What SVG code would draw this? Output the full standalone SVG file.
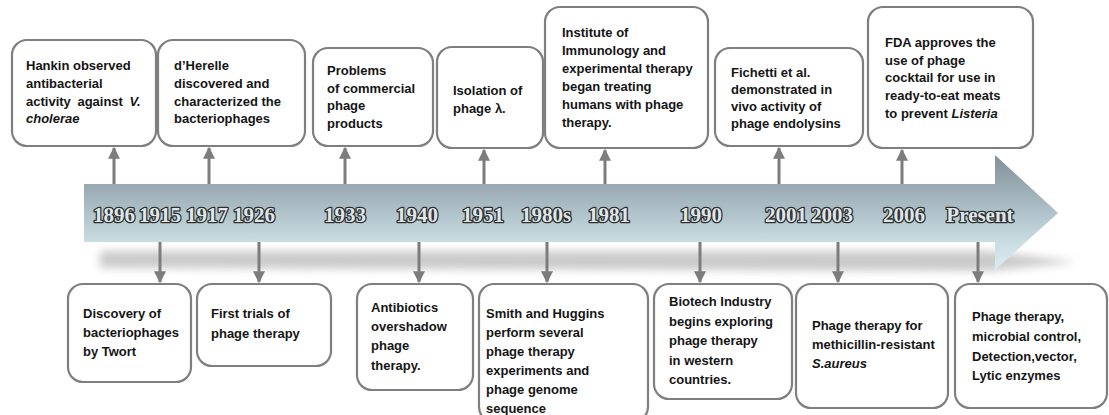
<svg xmlns="http://www.w3.org/2000/svg" width="1109" height="415" viewBox="0 0 1109 415">
<defs>
<style>
.box{fill:#fff;stroke:#7f7f7f;stroke-width:2.2}
.t{font-family:"Liberation Sans",Arial,sans-serif;font-weight:bold;font-size:13px;fill:#151515}
.i{font-style:italic}
.yr{font-family:"Liberation Serif","Times New Roman",serif;font-weight:bold;font-size:21px;fill:#dfe6ea;stroke:#2e2e2e;stroke-width:2.6;stroke-linejoin:round;paint-order:stroke;text-anchor:middle}
.con{stroke:#7d7d7d;stroke-width:3;fill:none;marker-end:url(#ah)}
</style>
<marker id="ah" markerUnits="userSpaceOnUse" markerWidth="12" markerHeight="12" viewBox="0 0 10 10" refX="9" refY="5" orient="auto">
<path d="M0,0 L10,5 L0,10 z" fill="#7d7d7d"/>
</marker>
<linearGradient id="band" gradientUnits="userSpaceOnUse" x1="0" y1="155" x2="0" y2="270">
<stop offset="0" stop-color="#7f9099"/>
<stop offset="0.25" stop-color="#97a8b0"/>
<stop offset="0.75" stop-color="#c9dce2"/>
<stop offset="1" stop-color="#dbedf2"/>
</linearGradient>
<filter id="blur" x="-5%" y="-100%" width="110%" height="300%">
<feGaussianBlur stdDeviation="4"/>
</filter>
</defs>

<g id="timeline">
<path d="M100,251 L990,251 L1078,262 L990,271 L100,268 z" fill="#8a8a8a" opacity="0.45" filter="url(#blur)"/>
<path d="M84,184 L995,184 L995,155 L1058,213 L995,270 L995,242 L84,242 z" fill="url(#band)"/>
<text class="yr" x="114" y="222">1896</text>
<text class="yr" x="160" y="222">1915</text>
<text class="yr" x="207" y="222">1917</text>
<text class="yr" x="254" y="222">1926</text>
<text class="yr" x="345" y="222">1933</text>
<text class="yr" x="417" y="222">1940</text>
<text class="yr" x="483" y="222">1951</text>
<text class="yr" x="546" y="222">1980s</text>
<text class="yr" x="609" y="222">1981</text>
<text class="yr" x="701" y="222">1990</text>
<text class="yr" x="786" y="222">2001</text>
<text class="yr" x="832" y="222">2003</text>
<text class="yr" x="904" y="222">2006</text>
<text class="yr" x="980" y="222">Present</text>
</g>

<g id="connectors">
<line class="con" x1="114" y1="184" x2="114" y2="148"/>
<line class="con" x1="209" y1="184" x2="209" y2="148"/>
<line class="con" x1="345" y1="184" x2="345" y2="148"/>
<line class="con" x1="484" y1="184" x2="484" y2="150"/>
<line class="con" x1="605" y1="184" x2="605" y2="150"/>
<line class="con" x1="779" y1="184" x2="779" y2="148"/>
<line class="con" x1="902" y1="184" x2="902" y2="150"/>
<line class="con" x1="160" y1="242" x2="160" y2="282"/>
<line class="con" x1="259" y1="242" x2="259" y2="282"/>
<line class="con" x1="419" y1="242" x2="419" y2="282"/>
<line class="con" x1="547" y1="242" x2="547" y2="282"/>
<line class="con" x1="700" y1="242" x2="700" y2="282"/>
<line class="con" x1="838" y1="242" x2="838" y2="282"/>
<line class="con" x1="978" y1="242" x2="978" y2="282"/>
</g>

<g id="n1896">
<rect class="box" x="12" y="40" width="144" height="106" rx="15"/>
<text class="t" x="26" y="70">Hankin observed</text>
<text class="t" x="26" y="88">antibacterial</text>
<text class="t" x="26" y="106" word-spacing="3">activity against <tspan class="i">V.</tspan></text>
<text class="t i" x="26" y="123">cholerae</text>
</g>

<g id="n1917">
<rect class="box" x="158" y="40" width="147" height="106" rx="15"/>
<text class="t" x="174" y="70">d’Herelle</text>
<text class="t" x="174" y="88">discovered and</text>
<text class="t" x="174" y="106">characterized the</text>
<text class="t" x="174" y="123">bacteriophages</text>
</g>

<g id="n1933">
<rect class="box" x="313" y="48" width="120" height="98" rx="15"/>
<text class="t" x="327" y="75">Problems</text>
<text class="t" x="327" y="93">of commercial</text>
<text class="t" x="327" y="110">phage</text>
<text class="t" x="327" y="128">products</text>
</g>

<g id="n1951">
<rect class="box" x="437" y="47" width="106" height="101" rx="15"/>
<text class="t" x="453" y="95">Isolation of</text>
<text class="t" x="453" y="113">phage λ.</text>
</g>

<g id="n1981">
<rect class="box" x="545" y="7" width="163" height="141" rx="15"/>
<text class="t" x="562" y="37">Institute of</text>
<text class="t" x="562" y="55">Immunology and</text>
<text class="t" x="562" y="73">experimental therapy</text>
<text class="t" x="562" y="91">began treating</text>
<text class="t" x="562" y="109">humans with phage</text>
<text class="t" x="562" y="127">therapy.</text>
</g>

<g id="n2001">
<rect class="box" x="715" y="48" width="148" height="98" rx="15"/>
<text class="t" x="731" y="77">Fichetti et al.</text>
<text class="t" x="731" y="94">demonstrated in</text>
<text class="t" x="731" y="111">vivo activity of</text>
<text class="t" x="731" y="128">phage endolysins</text>
</g>

<g id="n2006">
<rect class="box" x="868" y="7" width="165" height="141" rx="15"/>
<text class="t" x="885" y="47">FDA approves the</text>
<text class="t" x="885" y="65">use of phage</text>
<text class="t" x="885" y="82">cocktail for use in</text>
<text class="t" x="885" y="100">ready-to-eat meats</text>
<text class="t" x="885" y="118">to prevent <tspan class="i">Listeria</tspan></text>
</g>

<g id="n1915">
<rect class="box" x="68" y="284" width="123" height="98" rx="15"/>
<text class="t" x="83" y="318">Discovery of</text>
<text class="t" x="83" y="337">bacteriophages</text>
<text class="t" x="83" y="356">by Twort</text>
</g>

<g id="n1926">
<rect class="box" x="197" y="284" width="134" height="82" rx="15"/>
<text class="t" x="211" y="318">First trials of</text>
<text class="t" x="211" y="338">phage therapy</text>
</g>

<g id="n1940">
<rect class="box" x="357" y="284" width="116" height="106" rx="15"/>
<text class="t" x="371" y="312">Antibiotics</text>
<text class="t" x="371" y="331">overshadow</text>
<text class="t" x="371" y="350">phage</text>
<text class="t" x="371" y="370">therapy.</text>
</g>

<g id="n1980s">
<rect class="box" x="479" y="284" width="169" height="138" rx="15"/>
<text class="t" x="486" y="318">Smith and Huggins</text>
<text class="t" x="486" y="337">perform several</text>
<text class="t" x="486" y="356">phage therapy</text>
<text class="t" x="486" y="375">experiments and</text>
<text class="t" x="486" y="394">phage genome</text>
<text class="t" x="486" y="413">sequence</text>
</g>

<g id="n1990">
<rect class="box" x="654" y="284" width="138" height="115" rx="15"/>
<text class="t" x="669" y="306">Biotech Industry</text>
<text class="t" x="669" y="326">begins exploring</text>
<text class="t" x="669" y="345">phage therapy</text>
<text class="t" x="669" y="365">in western</text>
<text class="t" x="669" y="384">countries.</text>
</g>

<g id="n2003">
<rect class="box" x="796" y="284" width="152" height="124" rx="15"/>
<text class="t" x="812" y="330">Phage therapy for</text>
<text class="t" x="812" y="349">methicillin-resistant</text>
<text class="t i" x="812" y="368">S.aureus</text>
</g>

<g id="nPresent">
<rect class="box" x="955" y="284" width="152" height="124" rx="15"/>
<text class="t" x="972" y="321">Phage therapy,</text>
<text class="t" x="972" y="341">microbial control,</text>
<text class="t" x="972" y="361">Detection,vector,</text>
<text class="t" x="972" y="380">Lytic enzymes</text>
</g>
</svg>
